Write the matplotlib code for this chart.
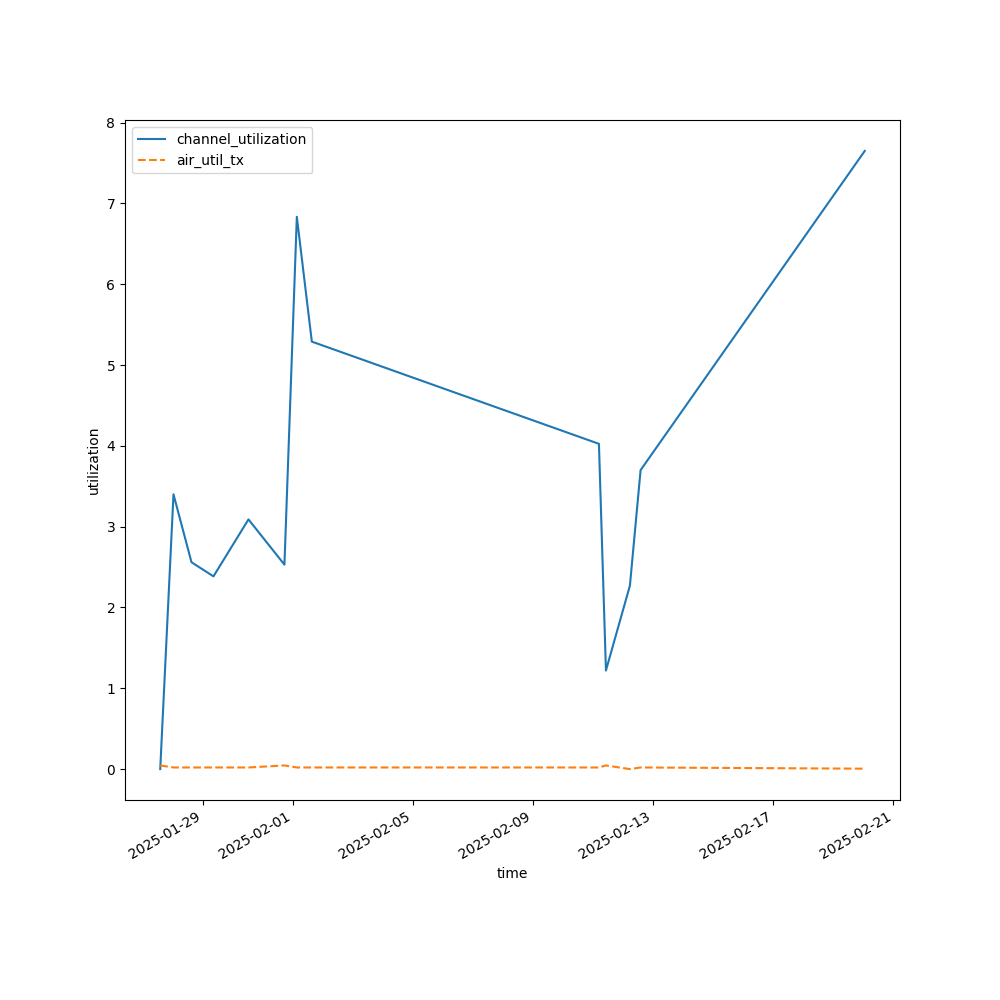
import numpy as np
import pandas as pd
import matplotlib
matplotlib.use("Agg")
import matplotlib.pyplot as plt

# readings
times = pd.to_datetime([
    "2025-01-27 14:04", "2025-01-28 00:40", "2025-01-28 15:03",
    "2025-01-29 08:37", "2025-01-30 12:35", "2025-01-31 17:20",
    "2025-02-01 03:14", "2025-02-01 15:13", "2025-02-11 04:40",
    "2025-02-11 10:16", "2025-02-12 05:25", "2025-02-12 13:58",
    "2025-02-20 01:07",
])
channel_utilization = [0.0, 3.40, 2.56, 2.385, 3.09, 2.53, 6.835, 5.29,
                       4.025, 1.22, 2.27, 3.70, 7.65]
air_util_tx = [0.045, 0.02, 0.02, 0.02, 0.02, 0.045, 0.02, 0.02,
               0.02, 0.045, 0.0, 0.02, 0.005]

fig, ax = plt.subplots(figsize=(10, 10))
ax.plot(times, channel_utilization, '-', label='channel_utilization')
ax.plot(times, air_util_tx, '--', label='air_util_tx')
ax.set_xlabel('time')
ax.set_ylabel('utilization')
ax.legend(loc='upper left')
fig.autofmt_xdate()

plt.savefig('out.png', dpi=100)
